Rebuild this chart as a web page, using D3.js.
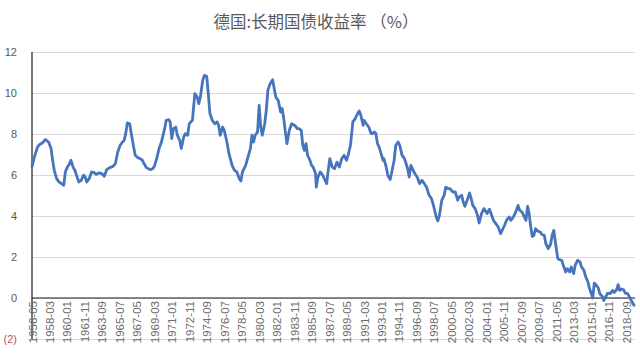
<!DOCTYPE html>
<html lang="zh">
    <head>
        <meta charset="utf-8">
        <title>德国:长期国债收益率</title>
        <script type="text/javascript" src="https://d3js.org/d3.v7.min.js"></script>
        <style type="text/css">
            body { margin: 0; background: #fff; }
            svg { display: block; }
        </style>
    </head>
    <body>
        <script type="text/javascript">

            const months = [
                "1956-05","1956-08","1956-12","1957-03","1957-06","1957-10","1958-02","1958-05","1958-07","1958-09",
                "1958-12","1959-03","1959-06","1959-09","1959-11","1960-02","1960-04","1960-06","1960-09","1960-11",
                "1961-01","1961-04","1961-07","1961-10","1961-12","1962-02","1962-05","1962-08","1962-12","1963-02",
                "1963-05","1963-09","1963-12","1964-03","1964-07","1964-11","1965-02","1965-05","1965-08","1965-11",
                "1966-01","1966-03","1966-05","1966-08","1966-10","1967-01","1967-03","1967-06","1967-09","1967-12",
                "1968-02","1968-05","1968-10","1969-01","1969-03","1969-06","1969-09","1969-12","1970-04","1970-06",
                "1970-09","1970-11","1971-01","1971-03","1971-06","1971-08","1971-11","1972-01","1972-04","1972-06",
                "1972-09","1972-11","1973-02","1973-03","1973-06","1973-09","1973-11","1974-01","1974-04","1974-06",
                "1974-09","1974-11","1975-01","1975-04","1975-07","1975-10","1975-12","1976-02","1976-05","1976-07",
                "1976-10","1977-01","1977-05","1977-08","1977-11","1978-02","1978-04","1978-06","1978-10","1979-01",
                "1979-04","1979-06","1979-08","1979-10","1980-01","1980-03","1980-05","1980-07","1980-10","1980-12",
                "1981-02","1981-05","1981-08","1981-10","1981-12","1982-03","1982-06","1982-08","1982-10","1982-12",
                "1983-02","1983-05","1983-08","1983-12","1984-03","1984-05","1984-08","1984-10","1984-12","1985-02",
                "1985-04","1985-07","1985-09","1985-11","1986-02","1986-03","1986-05","1986-08","1986-11","1987-01",
                "1987-04","1987-06","1987-08","1987-11","1988-02","1988-05","1988-08","1988-11","1989-02","1989-05",
                "1989-07","1989-10","1990-01","1990-04","1990-07","1990-09","1990-11","1991-02","1991-03","1991-06",
                "1991-09","1991-12","1992-02","1992-04","1992-06","1992-08","1992-10","1992-12","1993-03","1993-04",
                "1993-07","1993-09","1993-12","1994-02","1994-05","1994-07","1994-10","1994-12","1995-03","1995-06",
                "1995-08","1995-10","1995-12","1996-02","1996-04","1996-07","1996-10","1997-01","1997-04","1997-07",
                "1997-10","1998-01","1998-04","1998-07","1998-10","1998-12","1999-02","1999-05","1999-08","1999-10",
                "2000-01","2000-03","2000-07","2000-10","2001-01","2001-03","2001-06","2001-08","2001-10","2002-01",
                "2002-04","2002-06","2002-08","2002-11","2003-02","2003-04","2003-07","2003-10","2004-02","2004-05",
                "2004-07","2004-10","2005-01","2005-04","2005-07","2005-09","2005-12","2006-03","2006-06","2006-08",
                "2006-11","2007-02","2007-05","2007-07","2007-10","2007-12","2008-03","2008-05","2008-07","2008-09",
                "2008-11","2009-01","2009-03","2009-06","2009-09","2009-11","2010-02","2010-04","2010-07","2010-10",
                "2010-12","2011-02","2011-04","2011-07","2011-09","2011-12","2012-02","2012-05","2012-07","2012-10",
                "2012-12","2013-03","2013-05","2013-08","2013-11","2014-01","2014-04","2014-06","2014-09","2014-11",
                "2015-02","2015-03","2015-05","2015-07","2015-10","2015-12","2016-03","2016-05","2016-08","2016-10",
                "2017-01","2017-04","2017-06","2017-09","2017-11","2018-01","2018-03","2018-06","2018-08","2018-11",
                "2019-01","2019-04","2019-07"
            ];
            const yields = [
                6.40,6.88,7.37,7.50,7.56,7.73,7.60,7.29,6.72,6.23,
                5.82,5.66,5.58,5.50,6.15,6.42,6.52,6.72,6.36,6.23,
                5.99,5.66,5.74,5.99,5.90,5.66,5.82,6.15,6.10,6.03,
                6.10,6.07,5.94,6.26,6.36,6.42,6.56,7.12,7.45,7.61,
                7.69,8.02,8.54,8.50,8.02,7.37,6.96,6.85,6.80,6.72,
                6.56,6.36,6.26,6.31,6.42,6.80,7.29,7.61,8.26,8.67,
                8.70,8.59,7.78,8.26,8.34,7.94,7.69,7.29,7.85,8.02,
                7.94,8.50,8.63,8.67,9.97,9.80,9.48,9.80,10.62,10.86,
                10.81,9.97,9.00,8.67,8.50,8.59,8.42,7.94,8.34,8.18,
                7.69,7.04,6.47,6.23,6.15,5.82,5.71,6.15,6.47,6.88,
                7.29,7.94,7.61,7.94,8.10,9.40,8.34,7.94,8.50,9.16,
                10.13,10.46,10.65,10.21,9.80,9.64,9.07,9.24,8.75,8.10,
                7.53,8.18,8.50,8.42,8.26,8.26,8.18,7.45,7.20,7.53,
                6.96,6.72,6.47,6.39,6.07,5.41,5.90,6.15,5.99,5.82,
                5.58,6.23,6.80,6.39,6.31,6.63,6.39,6.80,6.96,6.72,
                6.96,7.45,8.59,8.75,9.00,9.12,8.91,8.42,8.67,8.50,
                8.34,8.02,8.02,8.10,8.02,7.53,7.37,7.12,6.72,6.80,
                6.39,5.99,5.78,6.15,6.72,7.45,7.61,7.45,6.96,6.80,
                6.56,6.31,5.90,6.47,6.31,6.07,5.90,5.58,5.74,5.58,
                5.39,5.01,4.85,4.44,3.95,3.76,4.03,4.77,5.01,5.41,
                5.34,5.34,5.17,5.17,4.77,4.93,5.01,4.68,4.47,4.77,
                5.12,4.85,4.52,4.36,4.03,3.66,4.12,4.36,4.12,4.33,
                4.12,3.79,3.63,3.46,3.14,3.30,3.55,3.83,3.95,3.79,
                3.95,4.19,4.52,4.28,4.19,4.03,3.79,4.47,4.12,3.46,
                3.00,3.06,3.38,3.26,3.22,3.10,3.06,2.65,2.41,2.62,
                3.06,3.30,2.73,1.92,1.87,1.84,1.60,1.27,1.43,1.27,
                1.51,1.19,1.60,1.84,1.76,1.51,1.35,1.06,0.78,0.46,
                0.13,0.00,0.73,0.65,0.49,0.21,0.08,-0.12,0.11,0.24,
                0.21,0.37,0.27,0.40,0.65,0.37,0.44,0.40,0.24,0.21,
                0.08,-0.15,-0.35
            ];

            const xTickLabels = [
                "1956-05","1958-03","1960-01","1961-11","1963-09","1965-07","1967-05","1969-03","1971-01",
                "1972-11","1974-09","1976-07","1978-05","1980-03","1982-01","1983-11","1985-09","1987-07",
                "1989-05","1991-03","1993-01","1994-11","1996-09","1998-07","2000-05","2002-03","2004-01",
                "2005-11","2007-09","2009-07","2011-05","2013-03","2015-01","2016-11","2018-09"
            ];
            const yTicks = [-2, 0, 2, 4, 6, 8, 10, 12];
            const firstMonth = "1956-05";
            const lastMonth = "2019-07";
            const title = "德国:长期国债收益率 （%）";

            const width = 640;
            const height = 353;
            const plotLeft = 32, plotRight = 634, plotTop = 52, plotBottom = 339;

            // month index counted from the first category
            const monthIndex = s => {
                const [y, m] = s.split("-").map(Number);
                const [y0, m0] = firstMonth.split("-").map(Number);
                return (y - y0) * 12 + (m - m0);
            };

            const data = months.map((m, i) => ({ t: monthIndex(m), v: yields[i] }));

            const xScale = d3.scaleLinear()
                             .domain([0, monthIndex(lastMonth)])
                             .range([plotLeft, plotRight]);
            const yScale = d3.scaleLinear()
                             .domain([-2, 12])
                             .range([plotBottom, plotTop]);

            const svg = d3.select("body")
                          .append("svg")
                          .attr("width", width)
                          .attr("height", height)
                          .style("font-family", "'Liberation Sans', Arial, sans-serif");

            svg.append("rect")
               .attr("width", width)
               .attr("height", height)
               .attr("fill", "#fff");

            // gridlines + left labels
            const leftAxis = d3.axisLeft(yScale)
                               .tickValues(yTicks)
                               .tickSize(-(plotRight + 1 - plotLeft))
                               .tickPadding(15)
                               .tickFormat(d => d < 0 ? "(" + Math.abs(d) + ")" : d);

            const gy = svg.append("g")
                          .attr("transform", "translate(" + plotLeft + ",0)")
                          .call(leftAxis);
            gy.select(".domain").remove();
            gy.selectAll(".tick line")
              .attr("stroke", "#d9d9d9")
              .attr("stroke-width", 1);
            gy.selectAll(".tick text")
              .attr("fill", d => d < 0 ? "#c0504d" : "#595959")
              .attr("font-size", 11);

            // vertical axis line
            svg.append("line")
               .attr("x1", plotLeft).attr("x2", plotLeft)
               .attr("y1", plotTop).attr("y2", plotBottom)
               .attr("stroke", "#1a1a1a")
               .attr("stroke-width", 1.2);

            // bottom axis sits on zero
            const bottomAxis = d3.axisBottom(xScale)
                                 .tickValues(xTickLabels.map(monthIndex))
                                 .tickSize(0)
                                 .tickFormat((d, i) => xTickLabels[i]);

            const gx = svg.append("g")
                          .attr("transform", "translate(0," + yScale(0) + ")")
                          .call(bottomAxis);
            gx.select(".domain")
              .attr("d", "M" + plotLeft + ",0H" + (plotRight + 1))
              .attr("stroke", "#1a1a1a")
              .attr("stroke-width", 1.2);
            gx.selectAll(".tick text")
              .attr("transform", "rotate(-90)")
              .attr("text-anchor", "end")
              .attr("x", -3)
              .attr("y", 0)
              .attr("dy", "0.35em")
              .attr("fill", "#6b6b6b")
              .attr("font-size", 11.5);

            // the yield line
            const line = d3.line()
                           .x(d => xScale(d.t))
                           .y(d => yScale(d.v));

            svg.append("path")
               .datum(data)
               .attr("d", line)
               .attr("fill", "none")
               .attr("stroke", "#4674bd")
               .attr("stroke-width", 2.8)
               .attr("stroke-linejoin", "round")
               .attr("stroke-linecap", "round");

            svg.append("text")
               .attr("x", 316)
               .attr("y", 28)
               .attr("text-anchor", "middle")
               .attr("font-family", "'Noto Sans CJK SC', sans-serif")
               .attr("font-size", 16.5)
               .attr("fill", "#595959")
               .text(title);

        </script>
    </body>
</html>
